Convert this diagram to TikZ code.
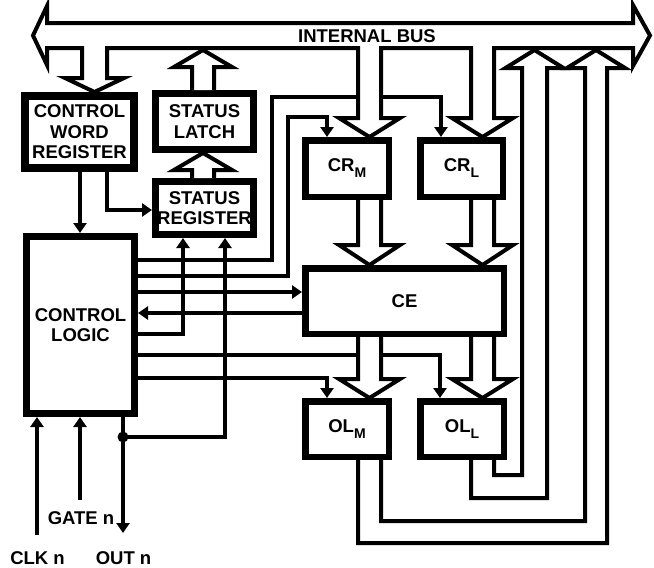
\documentclass[tikz,border=0pt]{standalone}
\usepackage{fontspec}
\setmainfont{Liberation Sans}
\usetikzlibrary{arrows.meta}
\newcommand{\lowsub}[1]{\raisebox{-6pt}{\fontsize{14}{14}\selectfont #1}}

\begin{document}
\begin{tikzpicture}[x=1pt,y=-1pt,
  font=\fontsize{18.5}{20.5}\selectfont\bfseries,
  blk/.style={draw,line width=6.5pt,fill=white,inner sep=0pt,align=center},
  fat/.style={line width=4pt,fill=white},
  sig/.style={line width=4.5pt,-{Triangle[width=13pt,length=10pt]}},
  wire/.style={line width=4.5pt}]
\useasboundingbox (0,0) rectangle (654,568);
\node[blk,line width=8pt,minimum width=109,minimum height=72] (cwr) at (79.5,132) {CONTROL\\WORD\\REGISTER};
\node[blk,line width=7pt,minimum width=98,minimum height=56] (slatch) at (204.5,121.5) {STATUS\\LATCH};
\node[blk,line width=7pt,minimum width=98,minimum height=53] (sreg) at (204.5,208) {STATUS\\REGISTER};
\node[blk,line width=7pt,minimum width=108,minimum height=177] (logic) at (80.5,325) {CONTROL\\LOGIC};
\node[blk,minimum width=83.5,minimum height=56.5] (crm) at (347,168.5) {CR\lowsub{M}};
\node[blk,minimum width=82.5,minimum height=56.5] (crl) at (461.5,168.5) {CR\lowsub{L}};
\node[blk,minimum width=198.5,minimum height=65.5] (ce) at (404.5,301) {CE};
\node[blk,minimum width=83.5,minimum height=55.5] (olm) at (347,429) {OL\lowsub{M}};
\node[blk,minimum width=83.5,minimum height=55.5] (oll) at (462,429) {OL\lowsub{L}};
\coordinate (clk) at (37,535);
\coordinate (gate) at (80,500);
\coordinate (out) at (123,533);
\coordinate (dot) at (123,437);
\draw[sig] (logic.east |- 0,260) -| (272,97) -| (441,0 |- crl.north);
\draw[sig] (logic.east |- 0,276) -| (288,117) -| (327,0 |- crm.north);
\draw[sig] (logic.east |- 0,292) -- (ce.west |- 0,292);
\draw[sig] (ce.west |- 0,313) -- (logic.east |- 0,313);
\draw[sig] (logic.east |- 0,334) -| (183,0 |- sreg.south);
\draw[sig] (logic.east |- 0,355) -| (440,0 |- oll.north);
\draw[sig] (logic.east |- 0,378) -| (327,0 |- olm.north);
\draw[sig] (80,0 |- cwr.south) -- (80,0 |- logic.north);
\draw[sig] (107,0 |- cwr.south) |- (sreg.west |- 0,210);
\draw[sig] (out |- logic.south) -- (out);
\fill (dot) circle (5.5pt);
\draw[sig] (dot) -| (225,0 |- sreg.south);
\draw[sig] (clk) -- (clk |- logic.south);
\draw[sig] (gate) -- (gate |- logic.south);
\draw[fat] (47,23) -- (47,6) -- (33,35.5) -- (47,65) -- (47,48) -- (82,48) -- (82,78) -- (65,78) -- (94.5,0 |- cwr.north) -- (124,78) -- (107,78) -- (107,48) -- (358,48) -- (358,118) -- (339,118) -- (369.5,0 |- crm.north) -- (400,118) -- (381,118) -- (381,48) -- (471,48) -- (471,118) -- (452,118) -- (482.5,0 |- crl.north) -- (513,118) -- (494,118) -- (494,48) -- (633,48) -- (633,66) -- (650,35.5) -- (633,5) -- (633,23) -- cycle;
\node (bus) at (367,36.5) {INTERNAL BUS};
\draw[fat] (192,0 |- slatch.north) -- (192,67) -- (174,67) -- (203,50) -- (232,67) -- (214,67) -- (214,0 |- slatch.north);
\draw[fat] (192,0 |- sreg.north) -- (192,170) -- (174,170) -- (203,0 |- slatch.south) -- (232,170) -- (214,170) -- (214,0 |- sreg.north);
\draw[fat] (358,0 |- crm.south) -- (358,245) -- (339,245) -- (369.5,0 |- ce.north) -- (400,245) -- (381,245) -- (381,0 |- crm.south);
\draw[fat] (471,0 |- crl.south) -- (471,245) -- (452,245) -- (482.5,0 |- ce.north) -- (513,245) -- (494,245) -- (494,0 |- crl.south);
\draw[fat] (358,0 |- ce.south) -- (358,379) -- (339,379) -- (369.5,0 |- olm.north) -- (400,379) -- (381,379) -- (381,0 |- ce.south);
\draw[fat] (471,0 |- ce.south) -- (471,379) -- (452,379) -- (482.5,0 |- oll.north) -- (513,379) -- (494,379) -- (494,0 |- ce.south);
\draw[fat] (494,0 |- oll.south) -- (494,475) -- (522,475) -- (522,68) -- (505.5,68) -- (534.5,50) -- (563.5,68) -- (547,68) -- (547,498) -- (471,498) -- (471,0 |- oll.south);
\draw[fat] (381,0 |- olm.south) -- (381,521) -- (585,521) -- (585,68) -- (567,68) -- (596,50) -- (625,68) -- (607,68) -- (607,543) -- (358,543) -- (358,0 |- olm.south);
\node (gatelbl) at (81,518) {GATE n};
\node (clklbl) at (37.5,558) {CLK n};
\node (outlbl) at (123.5,558) {OUT n};
\end{tikzpicture}
\end{document}
